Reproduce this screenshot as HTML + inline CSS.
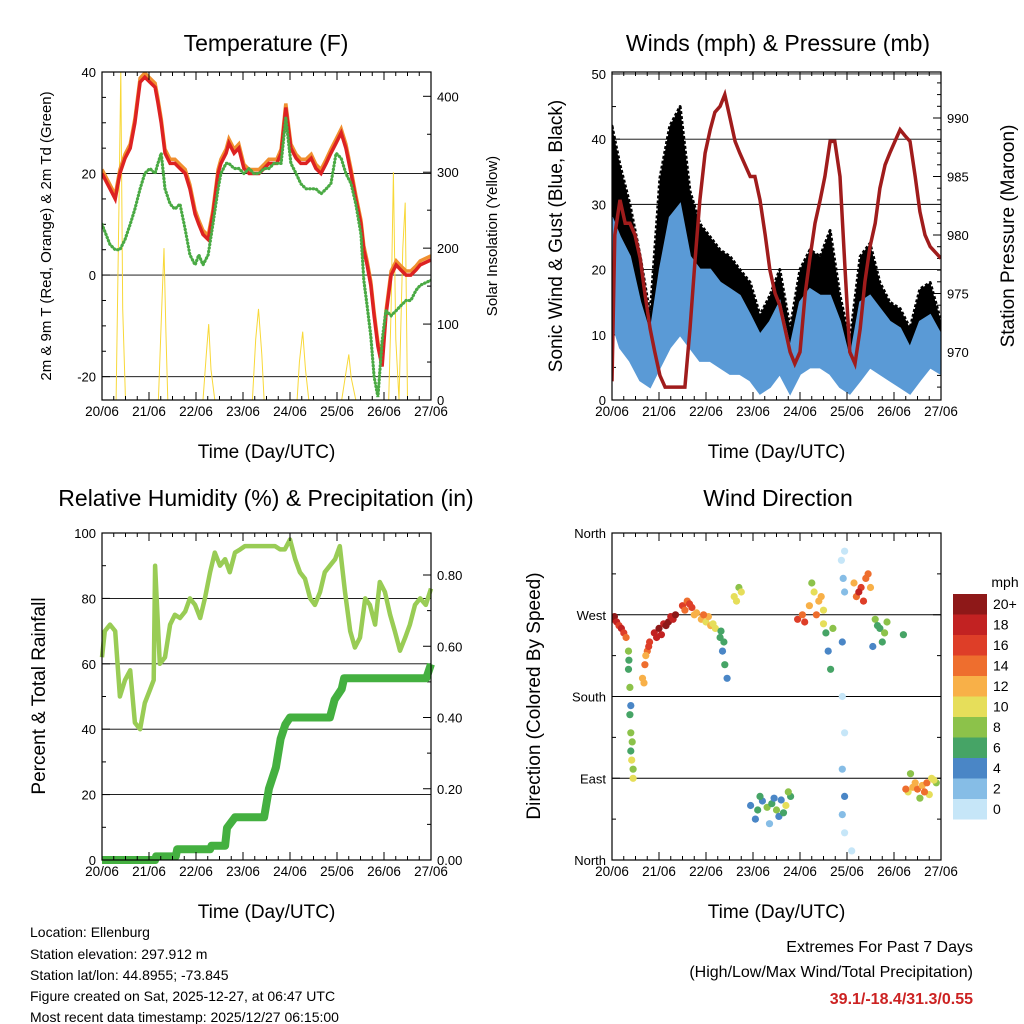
<!DOCTYPE html>
<html><head><meta charset="utf-8">
<style>
html,body{margin:0;padding:0;background:#fff;}
svg{display:block;font-family:"Liberation Sans",sans-serif;}
</style></head>
<body>
<svg id="chart" width="1024" height="1024" viewBox="0 0 1024 1024" xmlns="http://www.w3.org/2000/svg">
<rect x="0" y="0" width="1024" height="1024" fill="#fff"/>
<g id="layer"></g>
<g font-size="14" fill="#000">
<text x="30" y="937">Location: Ellenburg</text>
<text x="30" y="959">Station elevation: 297.912 m</text>
<text x="30" y="980">Station lat/lon: 44.8955; -73.845</text>
<text x="30" y="1001">Figure created on Sat, 2025-12-27, at 06:47 UTC</text>
<text x="30" y="1022">Most recent data timestamp: 2025/12/27 06:15:00</text>
</g>
<g text-anchor="end">
<text x="973" y="952" font-size="16">Extremes For Past 7 Days</text>
<text x="973" y="977" font-size="16">(High/Low/Max Wind/Total Precipitation)</text>
<text x="973" y="1004" font-size="16" font-weight="bold" fill="#cc2222">39.1/-18.4/31.3/0.55</text>
</g>
</svg>
<script>
const dayLabels=["20/06","21/06","22/06","23/06","24/06","25/06","26/06","27/06"];
const tTime=[0,0.17,0.28,0.38,0.49,0.6,0.7,0.81,0.91,1.02,1.13,1.19,1.26,1.34,1.45,1.55,1.66,1.77,1.87,1.98,2.06,2.15,2.26,2.36,2.47,2.53,2.64,2.7,2.81,2.91,3.02,3.13,3.23,3.34,3.45,3.55,3.66,3.72,3.81,3.91,4.02,4.13,4.23,4.34,4.45,4.55,4.66,4.77,4.87,4.98,5.09,5.19,5.3,5.4,5.51,5.57,5.64,5.72,5.79,5.87,5.96,6.04,6.15,6.26,6.36,6.47,6.57,6.68,6.77,7];
const tempF=[20,17,15,20,23,25,30,38,39,38,37,34,30,24,22,22,21,20,17,12,10,8,7,12,20,22,24,26,24,25,21,20,20,20,21,22,22,22,24,33,25,23,22,22,23,21,20,22,24,26,28,25,20,15,10,5,2,-2,-8,-14,-18,-8,0,2,1,0,0,1,2,3];
const dewF=[10,6,5,5,7,10,13,17,20,21,20,22,24,17,14,13,14,9,4,2,4,2,4,10,17,20,22,22,21,21,20,21,20,20,21,21,22,22,22,31,22,20,18,17,17,17,16,17,18,24,23,20,18,14,8,-1,-6,-12,-20,-24,-13,-7,-8,-7,-6,-5,-5,-3,-2,-1];
const solarTime=[0,0.3,0.36,0.4,0.44,0.5,1.2,1.27,1.32,1.36,1.4,2.15,2.22,2.27,2.32,2.4,3.2,3.27,3.33,3.4,3.45,4.15,4.2,4.27,4.33,4.4,5.1,5.2,5.25,5.3,5.4,6.1,6.15,6.2,6.25,6.32,6.4,6.45,6.5,6.7];
const solarW=[0,0,250,435,120,0,0,120,200,90,0,0,60,100,40,0,0,80,120,60,0,0,50,90,40,0,0,40,60,30,0,0,120,300,80,0,200,260,0,0];
const wTime=[0,0.17,0.38,0.6,0.81,1.02,1.23,1.45,1.66,1.87,2.09,2.3,2.51,2.72,2.94,3.15,3.36,3.57,3.79,4,4.21,4.43,4.64,4.85,5.06,5.28,5.49,5.7,5.91,6.13,6.34,6.55,6.77,7];
const windLo=[12,8,6,3,2,5,8,10,8,6,6,5,4,4,3,1,2,4,1,4,5,5,4,2,1,3,5,4,3,2,1,3,5,4];
const windHi=[28,25,22,15,10,20,28,30,22,20,20,18,17,16,13,10,12,15,8,15,17,16,16,12,6,15,16,14,12,11,8,12,13,10];
const gustLo=[16,12,9,6,3,8,14,16,12,10,10,8,8,8,5,2,4,6,2,6,8,8,8,4,2,6,8,6,5,4,2,5,7,6];
const gustHi=[42,36,30,22,13,34,42,45,32,27,25,23,22,20,18,13,16,20,11,20,23,22,26,16,9,22,24,18,15,14,11,17,18,12];
const pTime=[0,0.06,0.17,0.28,0.38,0.49,0.6,0.7,0.81,0.91,1.02,1.13,1.23,1.34,1.45,1.55,1.66,1.77,1.87,1.98,2.09,2.19,2.3,2.4,2.51,2.62,2.72,2.83,2.94,3.04,3.15,3.26,3.36,3.47,3.57,3.68,3.79,3.89,4,4.11,4.21,4.32,4.43,4.53,4.64,4.74,4.85,4.96,5.06,5.17,5.28,5.38,5.49,5.6,5.7,5.81,5.91,6.02,6.13,6.23,6.34,6.45,6.55,6.66,6.77,7];
const pressMb=[967.5,980,983,981,981,980,978,975,972,970,968,967,967,967,967,967,972,978,983,987,989,990.5,991,992,990,988,987,986,985,985,983,980,977,975,974,972,970,969,970,975,978,981,983,985,988,988,985,977,970,969,972,976,979,981,984,986,987,988,989,988.5,988,985,982,980,979,978];
const rhTime=[0,0.06,0.17,0.28,0.38,0.49,0.6,0.7,0.81,0.91,1.02,1.1,1.13,1.23,1.34,1.45,1.55,1.66,1.77,1.87,1.98,2.09,2.19,2.3,2.4,2.51,2.62,2.72,2.83,2.94,3.04,3.15,3.26,3.36,3.47,3.57,3.68,3.79,3.89,4,4.11,4.21,4.32,4.43,4.53,4.64,4.74,4.85,4.96,5.06,5.17,5.28,5.38,5.49,5.6,5.7,5.81,5.91,6.02,6.13,6.23,6.34,6.45,6.55,6.66,6.77,6.89,7];
const rhPct=[62,70,72,70,50,55,58,42,40,48,52,55,90,60,62,72,75,74,76,80,78,74,80,88,94,90,92,88,94,95,96,96,96,96,96,96,96,95,95,98,92,88,86,80,78,82,88,90,92,96,82,70,65,68,80,78,72,85,82,75,70,64,68,72,78,80,78,83];
const prTime=[0,1.13,1.15,1.57,1.6,2.3,2.33,2.62,2.66,2.83,2.88,3.45,3.55,3.7,3.8,3.9,4.0,4.85,4.95,5.1,5.15,6.9,7];
const prIn=[0,0,0.01,0.01,0.03,0.03,0.04,0.04,0.09,0.12,0.12,0.12,0.2,0.26,0.34,0.38,0.40,0.40,0.45,0.48,0.51,0.51,0.55];
const dirTime=[0,0.05,0.1,0.15,0.2,0.25,0.3,0.35,0.35,0.38,0.38,0.4,0.4,0.42,0.45,0.45,0.4,0.36,0.43,0.65,0.7,0.75,0.8,0.72,0.68,0.78,0.9,1,1.1,1.2,1.3,1.05,1.15,0.95,1.25,1.35,1.5,1.6,1.7,1.8,1.55,1.65,1.75,1.9,2,2.1,2.2,2.05,2.15,1.95,2.3,2.35,2.4,2.45,2.38,2.32,2.6,2.7,2.65,2.75,2.95,3.1,3.2,3.3,3.4,3.5,3.6,3.7,3.8,3.05,3.35,3.55,3.15,3.45,3.65,3.75,3.95,4.05,4.1,4.2,4.3,4.4,4.5,4.35,4.25,4.45,4.5,4.55,4.6,4.65,4.7,4.9,4.95,4.88,4.92,4.95,4.9,4.95,4.9,4.95,4.9,4.95,5.1,5.2,5.3,5.4,5.15,5.35,5.25,5.45,5.5,5.6,5.7,5.8,5.65,5.75,5.55,5.85,6.2,6.3,6.4,6.5,6.6,6.7,6.8,6.9,6.35,6.55,6.75,6.25,6.45,6.65,6.85];
const dirDeg=[265,268,262,258,255,250,245,230,210,190,160,140,120,110,100,90,170,220,130,200,215,230,240,225,195,235,250,255,260,262,265,248,258,245,268,270,280,285,278,272,275,282,270,265,262,258,255,268,260,270,245,230,215,200,240,252,290,300,285,295,60,55,65,58,62,55,66,60,70,45,40,48,70,68,52,75,265,270,262,280,295,285,275,270,305,290,260,250,230,210,255,240,340,330,310,295,180,140,100,70,50,30,10,290,300,310,305,285,295,315,300,265,255,250,258,240,235,262,248,75,80,78,82,85,90,85,95,68,72,78,85,75,88,80];
const dirSpd=[18,20,18,16,18,16,14,8,6,8,6,8,6,10,8,10,4,6,8,12,14,14,16,12,12,16,18,20,18,20,18,18,20,18,18,20,16,14,16,12,14,16,12,12,10,12,10,12,10,14,6,4,6,4,6,6,10,8,10,10,4,6,4,8,6,8,4,10,6,4,2,4,6,4,6,8,16,14,16,12,10,12,10,14,8,12,10,6,4,6,8,4,0,0,2,2,0,0,2,4,2,0,0,14,16,14,12,16,18,14,12,8,6,8,6,6,4,8,6,10,12,14,12,14,10,8,8,8,10,14,12,14,10,8];
const spdLabels=["0","2","4","6","8","10","12","14","16","18","20+"];
const spdColors=["#c6e6f8","#86bde6","#4a86c6","#46a466","#8cc24a","#e6de5a","#f8b048","#ee6e2e","#de3e28","#c22222","#8e1818"];

const NS="http://www.w3.org/2000/svg";
const layer=document.getElementById('layer');
function mk(tag,attrs,parent){const e=document.createElementNS(NS,tag);for(const k in attrs)e.setAttribute(k,attrs[k]);(parent||layer).appendChild(e);return e;}
function txt(s,attrs,parent){const e=mk('text',attrs,parent);e.textContent=s;return e;}
function lin(d0,d1,r0,r1){return v=>r0+(v-d0)/(d1-d0)*(r1-r0);}
function pathOf(xs,ys,fx,fy){return xs.map((t,i)=>(i?'L':'M')+fx(t).toFixed(1)+','+fy(ys[i]).toFixed(1)).join(' ');}
function panel(name){
  const g=mk('g',{});
  
  
  return g;
}
function frame(g,x0,x1,y0,y1){
  const r=mk('rect',{x:x0,y:y0,width:x1-x0,height:y1-y0,fill:'none',stroke:'#000','stroke-width':1.2},g);
  
  
}
function xAxis(g,x0,x1,y0,y1,fx){
  const ax=mk('g',{},g);
  
  
  dayLabels.forEach((l,i)=>{
    const x=fx(i);
    mk('line',{x1:x,x2:x,y1:y1,y2:y1-8,stroke:'#000'},ax);
    mk('line',{x1:x,x2:x,y1:y0,y2:y0+8,stroke:'#000'},ax);
    const t=txt(l,{x:x,y:y1+16,'text-anchor':'middle','font-size':13.5},ax);
    
    
    if(i<7){for(let k=1;k<4;k++){const xm=fx(i+k/4);
      mk('line',{x1:xm,x2:xm,y1:y1,y2:y1-4,stroke:'#000'},ax);
      mk('line',{x1:xm,x2:xm,y1:y0,y2:y0+4,stroke:'#000'},ax);}}
  });
  const t=txt('Time (Day/UTC)',{x:(x0+x1)/2,y:y1+58,'text-anchor':'middle','font-size':19},g);
  
  
}
function yTicks(g,vals,labels,fy,x,side,grid,x0,x1,minor){
  const ax=mk('g',{},g);
  
  
  vals.forEach((v,i)=>{
    const y=fy(v);
    if(grid) mk('line',{x1:x0,x2:x1,y1:y,y2:y,stroke:'#000','stroke-width':0.9},ax);
    const dir=side==='l'?1:-1;
    mk('line',{x1:x,x2:x+dir*8,y1:y,y2:y,stroke:'#000'},ax);
    const t=txt(labels[i],{x:side==='l'?x-6:x+6,y:y+5,'text-anchor':side==='l'?'end':'start','font-size':13},ax);
    
    
  });
  (minor||[]).forEach(v=>{const y=fy(v);const dir=side==='l'?1:-1;
    mk('line',{x1:x,x2:x+dir*4,y1:y,y2:y,stroke:'#000'},ax);});
}
function rotTitle(g,s,x,y,size,name){
  const t=txt(s,{x:x,y:y,'text-anchor':'middle','font-size':size,transform:`rotate(-90 ${x} ${y})`},g);
  
  
}
function title(g,s,x,y){
  const t=txt(s,{x:x,y:y,'text-anchor':'middle','font-size':23},g);
  
  
}

(function(){
  const X0=102,X1=431,Y0=72,Y1=400;
  const g=panel('temperature-panel');
  const fx=lin(0,7,X0,X1), fy=lin(-24.6,40,Y1,Y0), fs=lin(0,432,Y1,Y0);
  title(g,'Temperature (F)',266,51);
  const cp=mk('clipPath',{id:'c1'},g);mk('rect',{x:X0,y:Y0,width:X1-X0,height:Y1-Y0},cp);
  yTicks(g,[40,20,0,-20],['40','20','0','-20'],fy,X0,'l',true,X0,X1,[35,30,25,15,10,5,-5,-10,-15]);
  yTicks(g,[0,100,200,300,400],['0','100','200','300','400'],fs,X1,'r',false,X0,X1,[50,150,250,350]);
  const pg=mk('g',{'clip-path':'url(#c1)'},g);
  const s=mk('path',{d:pathOf(solarTime,solarW,fx,fs),fill:'none',stroke:'#f8d838','stroke-width':1},pg);
  
  const o=mk('path',{d:pathOf(tTime,tempF.map(v=>v+0.8),fx,fy),fill:'none',stroke:'#f09030','stroke-width':3.5},pg);
  
  const r=mk('path',{d:pathOf(tTime,tempF,fx,fy),fill:'none',stroke:'#dd2222','stroke-width':3.5},pg);
  
  const dgr=mk('path',{d:pathOf(tTime,dewF,fx,fy),fill:'none',stroke:'#4aaa44','stroke-width':3.2,'stroke-linecap':'round','stroke-dasharray':'0.5 3'},pg);
  
  frame(g,X0,X1,Y0,Y1);
  xAxis(g,X0,X1,Y0,Y1,fx);
  rotTitle(g,'2m & 9m T (Red, Orange) & 2m Td (Green)',51,236,15,'left-y-axis-title');
  rotTitle(g,'Solar Insolation (Yellow)',497,236,15,'right-y-axis-title');
})();

(function(){
  const X0=612,X1=941,Y0=72,Y1=400;
  const g=panel('winds-pressure-panel');
  const fx=lin(0,7,X0,X1), fy=lin(0,50.3,Y1,Y0), fp=lin(970,990,352,118);
  title(g,'Winds (mph) & Pressure (mb)',778,51);
  const cp=mk('clipPath',{id:'c2'},g);mk('rect',{x:X0,y:Y0,width:X1-X0,height:Y1-Y0},cp);
  yTicks(g,[0,10,20,30,40,50],['0','10','20','30','40','50'],fy,X0,'l',true,X0,X1,[5,15,25,35,45]);
  yTicks(g,[970,975,980,985,990],['970','975','980','985','990'],fp,X1,'r',false,X0,X1,[967,968,969,971,972,973,974,976,977,978,979,981,982,983,984,986,987,988,989,991,992,993]);
  const pg=mk('g',{'clip-path':'url(#c2)'},g);
  const band=(lo,hi)=>pathOf(wTime,hi,fx,fy)+' '+wTime.slice().reverse().map((t,i)=>'L'+fx(t).toFixed(1)+','+fy(lo[lo.length-1-i]).toFixed(1)).join(' ')+' Z';
  const gb=mk('path',{d:band(gustLo,gustHi),fill:'#000',stroke:'#000','stroke-width':3,'stroke-linejoin':'round','stroke-dasharray':'3 2'},pg);
  
  const wb=mk('path',{d:band(windLo,windHi),fill:'#5a9ad6',stroke:'#5a9ad6','stroke-width':2},pg);
  
  const p=mk('path',{d:pathOf(pTime,pressMb,fx,fp),fill:'none',stroke:'#a01c1c','stroke-width':3.5},pg);
  
  frame(g,X0,X1,Y0,Y1);
  xAxis(g,X0,X1,Y0,Y1,fx);
  rotTitle(g,'Sonic Wind & Gust (Blue, Black)',562,236,19,'left-y-axis-title');
  rotTitle(g,'Station Pressure (Maroon)',1014,236,19,'right-y-axis-title');
})();

(function(){
  const X0=102,X1=431,Y0=533,Y1=860;
  const g=panel('humidity-precip-panel');
  const fx=lin(0,7,X0,X1), fy=lin(0,100,Y1,Y0), fr=lin(0,0.8,860,575);
  title(g,'Relative Humidity (%) & Precipitation (in)',266,506);
  const cp=mk('clipPath',{id:'c3'},g);mk('rect',{x:X0-4,y:Y0,width:X1-X0+8,height:Y1-Y0+4},cp);
  yTicks(g,[0,20,40,60,80,100],['0','20','40','60','80','100'],fy,X0,'l',true,X0,X1,[10,30,50,70,90]);
  yTicks(g,[0,0.2,0.4,0.6,0.8],['0.00','0.20','0.40','0.60','0.80'],fr,X1,'r',false,X0,X1,[0.1,0.3,0.5,0.7]);
  const pg=mk('g',{'clip-path':'url(#c3)'},g);
  const rh=mk('path',{d:pathOf(rhTime,rhPct,fx,fy),fill:'none',stroke:'#99cc55','stroke-width':4.5,'stroke-linejoin':'round'},pg);
  
  const pr=mk('path',{d:pathOf(prTime,prIn,fx,fr),fill:'none',stroke:'#44b040','stroke-width':8,'stroke-linejoin':'round'},pg);
  
  frame(g,X0,X1,Y0,Y1);
  xAxis(g,X0,X1,Y0,Y1,fx);
  rotTitle(g,'Percent & Total Rainfall',45,696,19,'left-y-axis-title');
})();

(function(){
  const X0=612,X1=941,Y0=533,Y1=860;
  const g=panel('wind-direction-panel');
  const fx=lin(0,7,X0,X1), fy=lin(0,360,Y1,Y0);
  title(g,'Wind Direction',778,506);
  const cp=mk('clipPath',{id:'c4'},g);mk('rect',{x:X0,y:Y0,width:X1-X0,height:Y1-Y0},cp);
  yTicks(g,[360,270,180,90,0],['North','West','South','East','North'],fy,X0,'l',true,X0,X1,[315,225,135,45]);
  yTicks(g,[360,270,180,90,0],['','','','',''],fy,X1,'r',false,X0,X1,[315,225,135,45]);
  const pg=mk('g',{'clip-path':'url(#c4)'},g);
  dirTime.forEach((t,i)=>{
    const c=mk('circle',{cx:fx(t).toFixed(1),cy:fy(dirDeg[i]).toFixed(1),r:3.6,fill:spdColors[Math.min(10,Math.floor(dirSpd[i]/2))]},pg);
    
    
  });
  frame(g,X0,X1,Y0,Y1);
  xAxis(g,X0,X1,Y0,Y1,fx);
  rotTitle(g,'Direction (Colored By Speed)',540,696,19,'left-y-axis-title');
  const cb=mk('g',{},g);
  
  
  const t=txt('mph',{x:1005,y:587,'text-anchor':'middle','font-size':14},cb);
  
  const top=594,h=20.5;
  spdLabels.slice().reverse().forEach((l,i)=>{
    const c=spdColors[10-i];
    const r=mk('rect',{x:953,y:top+i*h,width:34,height:h,fill:c},cb);
    
    const lt=txt(l,{x:993,y:top+i*h+15,'font-size':14},cb);
    
  });
})();
</script>
</body></html>
